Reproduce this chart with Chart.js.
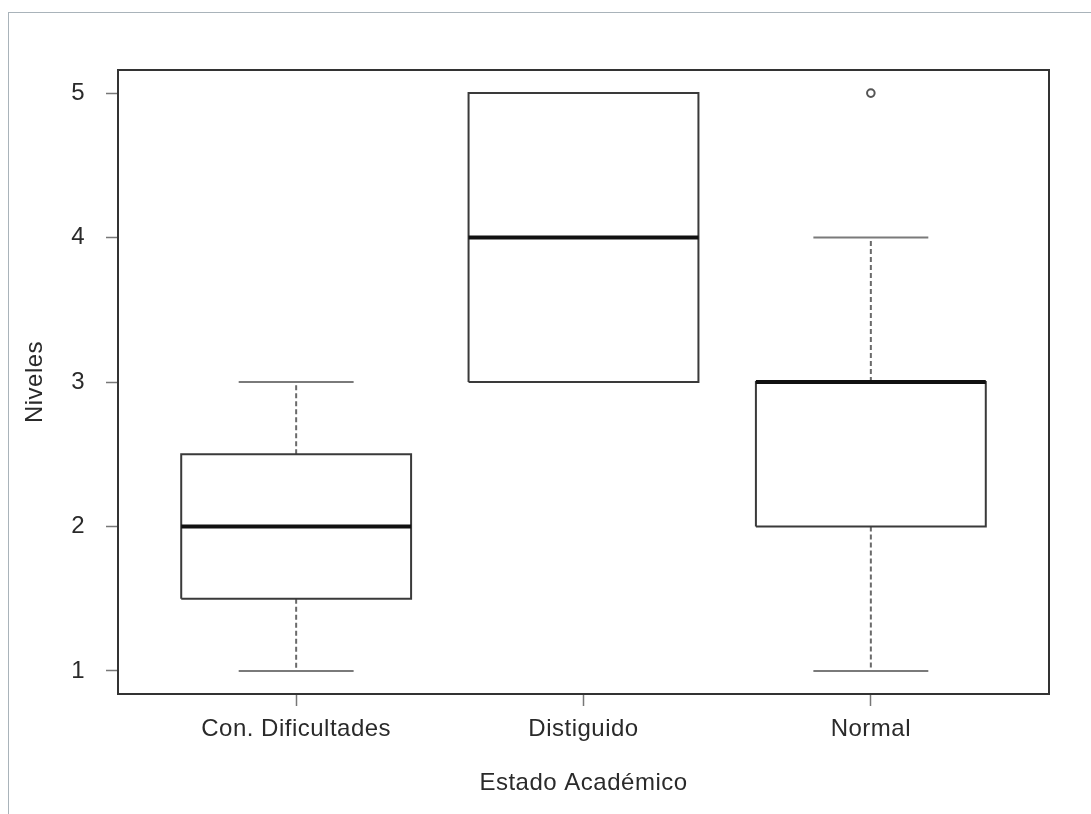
<!DOCTYPE html>
<html>
<head>
<meta charset="utf-8">
<script src="https://cdn.jsdelivr.net/npm/chart.js@4/dist/chart.umd.min.js"></script>
<style>
    html, body { margin: 0; padding: 0; background: #fff; }
    #frame { position: absolute; left: 8px; top: 12px; width: 1100px; height: 820px; border-left: 1px solid #a9b3ba; border-top: 1px solid #a9b3ba; }
    #boxChart { position: absolute; left: 0; top: 0; }
</style>
</head>
<body>
<div id="frame"></div>
<canvas id="boxChart" width="1091" height="814"></canvas>
<script>
// Boxplot data
const categories = ['Con. Dificultades', 'Distiguido', 'Normal'];
const whiskerLow = [1, 3, 1];
const boxLow = [1.5, 3, 2];
const medians = [2, 4, 3];
const boxHigh = [2.5, 5, 3];
const whiskerHigh = [3, 5, 4];
const outliers = [[], [], [5]];
const yTicks = [1, 2, 3, 4, 5];

const boxHalf = 0.4;   // box width 0.8
const capHalf = 0.2;   // staple half of box

const fontFamily = '"Liberation Sans", Arial, Helvetica, sans-serif';

const datasets = [];
categories.forEach((cat, i) => {
    const x = i + 1;
    // median
    datasets.push({
        data: [{x: x - boxHalf, y: medians[i]}, {x: x + boxHalf, y: medians[i]}],
        borderColor: '#111', borderWidth: 4, showLine: true, pointRadius: 0, order: 1
    });
    // box
    datasets.push({
        data: [
            {x: x - boxHalf, y: boxLow[i]}, {x: x + boxHalf, y: boxLow[i]},
            {x: x + boxHalf, y: boxHigh[i]}, {x: x - boxHalf, y: boxHigh[i]},
            {x: x - boxHalf, y: boxLow[i]}
        ],
        borderColor: '#3a3a3a', borderWidth: 2, showLine: true, pointRadius: 0, order: 2
    });
    // whisker caps
    [whiskerLow[i], whiskerHigh[i]].forEach(v => {
        datasets.push({
            data: [{x: x - capHalf, y: v}, {x: x + capHalf, y: v}],
            borderColor: '#7a7a7a', borderWidth: 2, showLine: true, pointRadius: 0, order: 3
        });
    });
    // dashed whiskers
    datasets.push({
        data: [{x: x, y: boxLow[i]}, {x: x, y: whiskerLow[i]}],
        borderColor: '#6a6a6a', borderWidth: 2, borderDash: [5, 3], showLine: true, pointRadius: 0, order: 4
    });
    datasets.push({
        data: [{x: x, y: boxHigh[i]}, {x: x, y: whiskerHigh[i]}],
        borderColor: '#6a6a6a', borderWidth: 2, borderDash: [5, 3], showLine: true, pointRadius: 0, order: 4
    });
    // outliers
    if (outliers[i].length) {
        datasets.push({
            data: outliers[i].map(v => ({x: x, y: v})),
            showLine: false, pointStyle: 'circle', pointRadius: 3.8,
            pointBorderColor: '#555', pointBackgroundColor: 'rgba(0,0,0,0)', pointBorderWidth: 2, order: 1
        });
    }
});

// plot frame around the chart area, slight letter spacing like the R output
const framePlugin = {
    id: 'plotFrame',
    beforeDraw(chart) {
        chart.ctx.letterSpacing = '0.5px';
    },
    beforeDatasetsDraw(chart) {
        const {ctx, chartArea} = chart;
        ctx.save();
        ctx.strokeStyle = '#333';
        ctx.lineWidth = 2;
        ctx.strokeRect(chartArea.left, chartArea.top, chartArea.right - chartArea.left, chartArea.bottom - chartArea.top);
        ctx.restore();
    }
};

const ctx = document.getElementById('boxChart').getContext('2d');
new Chart(ctx, {
    type: 'scatter',
    data: { datasets: datasets },
    plugins: [framePlugin],
    options: {
        responsive: false,
        animation: false,
        layout: { padding: { top: 70, right: 42, left: 0, bottom: 0 } },
        plugins: { legend: { display: false }, tooltip: { enabled: false } },
        scales: {
            x: {
                type: 'linear',
                min: 0.38,
                max: 3.62,
                afterBuildTicks: scale => { scale.ticks = categories.map((c, i) => ({value: i + 1})); },
                afterFit: scale => { scale.height = 120; },
                border: { display: false },
                grid: { drawOnChartArea: false, drawTicks: true, tickLength: 12, tickColor: '#777', tickWidth: 1.5 },
                ticks: {
                    callback: v => categories[v - 1],
                    autoSkip: false, maxRotation: 0, padding: 9,
                    color: '#2a2a2a', font: { family: fontFamily, size: 24 }
                },
                title: {
                    display: true, text: 'Estado Académico', color: '#2a2a2a',
                    font: { family: fontFamily, size: 24 }, padding: { top: 0, bottom: 16 }
                }
            },
            y: {
                min: 0.84,
                max: 5.16,
                afterBuildTicks: scale => { scale.ticks = yTicks.map(v => ({value: v})); },
                afterFit: scale => { scale.width = 118; },
                border: { display: false },
                grid: { drawOnChartArea: false, drawTicks: true, tickLength: 12, tickColor: '#777', tickWidth: 1.5 },
                ticks: {
                    padding: 21, color: '#2a2a2a', font: { family: fontFamily, size: 24 }
                },
                title: {
                    display: true, text: 'Niveles', color: '#2a2a2a',
                    font: { family: fontFamily, size: 24 }, padding: { top: 21, bottom: 0 }
                }
            }
        }
    }
});
</script>
</body>
</html>
